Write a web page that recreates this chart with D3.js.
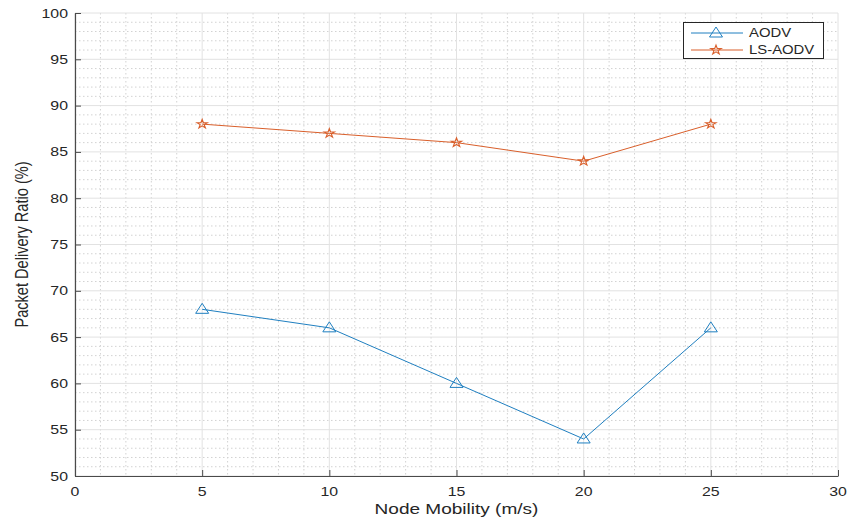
<!DOCTYPE html>
<html><head><meta charset="utf-8">
<script src="https://cdn.jsdelivr.net/npm/d3@7"></script>
<style>body{margin:0;background:#fff;} svg{display:block;} text{font-family:"Liberation Sans",Arial,Helvetica,sans-serif;fill:#262626;}</style>
</head><body>
<svg id="chart" width="851" height="519"></svg>
<script>
const mobility = [5, 10, 15, 20, 25];
const aodv = [68, 66, 60, 54, 66];
const lsAodv = [88, 87, 86, 84, 88];
const seriesNames = ["AODV", "LS-AODV"];
const xTicks = [0, 5, 10, 15, 20, 25, 30];
const yTicks = [50, 55, 60, 65, 70, 75, 80, 85, 90, 95, 100];
const xTitle = "Node Mobility (m/s)";
const yTitle = "Packet Delivery Ratio (%)";

const SX = 1.27; // horizontal stretch of the reference text
const svg = d3.select("#chart");
const L = 75, R = 838, T = 13, B = 476;
const x = d3.scaleLinear().domain([0, 30]).range([L, R]);
const y = d3.scaleLinear().domain([50, 100]).range([B, T]);

// minor grid
const g = svg.append("g");
g.selectAll(".mx").data(d3.range(0, 31).filter(v => v % 5 !== 0)).enter().append("line")
  .attr("x1", d => x(d)).attr("x2", d => x(d)).attr("y1", T).attr("y2", B)
  .attr("stroke", "#d2d2d2").attr("stroke-width", 1).attr("stroke-dasharray", "1.5,2.5");
g.selectAll(".my").data(d3.range(50, 101).filter(v => v % 5 !== 0)).enter().append("line")
  .attr("y1", d => y(d)).attr("y2", d => y(d)).attr("x1", L).attr("x2", R)
  .attr("stroke", "#d2d2d2").attr("stroke-width", 1).attr("stroke-dasharray", "1.5,2.5");
// major grid
g.selectAll(".Mx").data(xTicks).enter().append("line")
  .attr("x1", d => x(d)).attr("x2", d => x(d)).attr("y1", T).attr("y2", B)
  .attr("stroke", "#e2e2e2").attr("stroke-width", 1);
g.selectAll(".My").data(yTicks).enter().append("line")
  .attr("y1", d => y(d)).attr("y2", d => y(d)).attr("x1", L).attr("x2", R)
  .attr("stroke", "#e2e2e2").attr("stroke-width", 1);

// axes
const axisColor = "#4a4a4a";
const xAxis = svg.append("g").attr("transform", `translate(0,${B})`)
  .call(d3.axisBottom(x).tickValues(xTicks).tickSizeInner(-6).tickSizeOuter(0).tickFormat(""));
const yAxis = svg.append("g").attr("transform", `translate(${L},0)`)
  .call(d3.axisLeft(y).tickValues(yTicks).tickSizeInner(-6).tickSizeOuter(0).tickFormat(""));
[xAxis, yAxis].forEach(a => {
  a.select(".domain").attr("stroke", axisColor).attr("stroke-width", 1.2);
  a.selectAll(".tick line").attr("stroke", axisColor).attr("stroke-width", 1);
});

// tick labels
svg.selectAll(".xl").data(xTicks).enter().append("text")
  .attr("transform", d => `translate(${x(d)},${B + 20}) scale(${SX},1)`)
  .attr("text-anchor", "middle").attr("font-size", 12.5).text(d => d);
svg.selectAll(".yl").data(yTicks).enter().append("text")
  .attr("transform", d => `translate(${L - 7},${y(d)}) scale(${SX},1)`)
  .attr("dy", "0.36em").attr("text-anchor", "end").attr("font-size", 12.5).text(d => d);

// titles
svg.append("text").attr("transform", `translate(${(L + R) / 2},${514}) scale(${SX},1)`)
  .attr("text-anchor", "middle").attr("font-size", 15).text(xTitle);
svg.append("text").attr("transform", `translate(22,${(T + B) / 2}) rotate(-90) scale(1,${SX})`)
  .attr("text-anchor", "middle").attr("dy", "0.35em").attr("font-size", 14.6).text(yTitle);

// series
const colors = ["#1f7fc0", "#d95f2b"];
const line = d3.line().x((d, i) => x(mobility[i])).y(d => y(d));
const triPath = "M0,-6 L6.5,4 L-6.5,4 Z";
const star = d3.symbol().type(d3.symbolStar).size(26)();

function drawSeries(vals, color, marker, sxm) {
  svg.append("path").datum(vals).attr("d", line).attr("fill", "none")
    .attr("stroke", color).attr("stroke-width", 1);
  svg.selectAll(null).data(vals).enter().append("path")
    .attr("d", marker)
    .attr("transform", (d, i) => `translate(${x(mobility[i])},${y(d)}) scale(${sxm},1)`)
    .attr("fill", "none").attr("stroke", color).attr("stroke-width", 1);
}
drawSeries(aodv, colors[0], triPath, 1);
drawSeries(lsAodv, colors[1], star, 1.15);

// legend
const lg = svg.append("g");
lg.append("rect").attr("x", 683.5).attr("y", 22.5).attr("width", 140).attr("height", 36)
  .attr("fill", "#fff").attr("stroke", "#262626").attr("stroke-width", 1);
const legY = [33, 50];
const legMarkers = [[triPath, 1], [star, 1.15]];
seriesNames.forEach((name, i) => {
  lg.append("line").attr("x1", 691).attr("x2", 743).attr("y1", legY[i]).attr("y2", legY[i])
    .attr("stroke", colors[i]).attr("stroke-width", 1);
  lg.append("path").attr("d", legMarkers[i][0])
    .attr("transform", `translate(716,${legY[i]}) scale(${legMarkers[i][1]},1)`)
    .attr("fill", "none").attr("stroke", colors[i]).attr("stroke-width", 1);
  lg.append("text").attr("transform", `translate(749,${legY[i]}) scale(1.24,1)`)
    .attr("dy", "0.36em").attr("font-size", 12).text(name);
});
</script>
</body></html>
